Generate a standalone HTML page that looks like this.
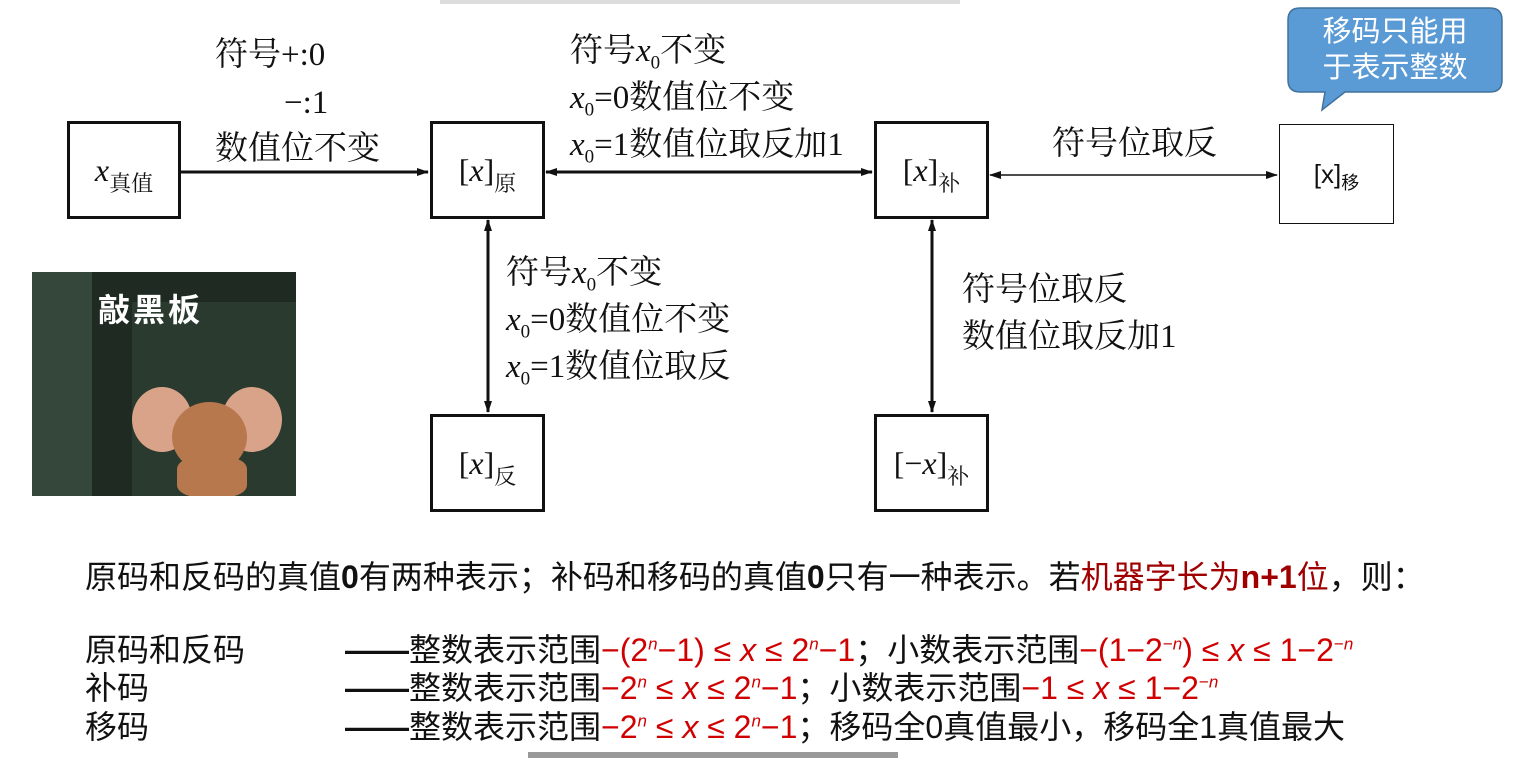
<!DOCTYPE html>
<html><head><meta charset="utf-8"><style>
body{margin:0;width:1524px;height:758px;background:#fff;position:relative;overflow:hidden;font-family:"Liberation Serif","Noto Serif CJK SC",serif;color:#111}
.a{position:absolute;white-space:nowrap}
.box{position:absolute;border:3px solid #111;box-sizing:border-box;background:#fff;display:flex;align-items:center;justify-content:center;font-size:32px}
.box sub{font-size:22px;vertical-align:-10px;line-height:0;font-family:"Noto Serif CJK SC",serif}
.t{font-size:33px;line-height:47px}
sub,sup{line-height:0}
i{font-style:italic}
.s{font-family:"Liberation Sans","Noto Sans CJK SC",sans-serif;font-size:32px;line-height:40px}
.r{color:#d00000}
.dr{color:#a00000}
.z{font-size:19px}
</style></head><body>
<div class="a" style="left:440px;top:0;width:520px;height:4px;background:#ddd"></div>
<div class="a" style="left:528px;top:752px;width:370px;height:6px;background:#999"></div>

<svg class="a" style="left:0;top:0" width="1524" height="758">
<defs>
<marker id="m" markerWidth="12" markerHeight="10" refX="11" refY="5" orient="auto-start-reverse" markerUnits="userSpaceOnUse"><path d="M0,1 L12,5 L0,9 Z" fill="#111"/></marker>
</defs>
<g stroke="#111" stroke-width="3">
<line x1="181" y1="172" x2="428" y2="172" marker-end="url(#m)"/>
<line x1="546" y1="172" x2="872" y2="172" marker-start="url(#m)" marker-end="url(#m)"/>
<line x1="488" y1="220" x2="488" y2="412" marker-start="url(#m)" marker-end="url(#m)"/>
<line x1="932" y1="220" x2="932" y2="412" marker-start="url(#m)" marker-end="url(#m)"/>
</g>
<line x1="990" y1="175" x2="1277" y2="175" stroke="#111" stroke-width="1.5" marker-start="url(#m)" marker-end="url(#m)"/>
<path d="M1300,8 H1490 Q1502,8 1502,20 V80 Q1502,92 1490,92 H1345 L1322,110 L1325,92 H1300 Q1288,92 1288,80 V20 Q1288,8 1300,8 Z" fill="#5b9bd5" stroke="#41719c" stroke-width="1.5"/>
</svg>
<div class="a s" style="left:1288px;top:14px;width:214px;text-align:center;color:#fff;font-size:29px;line-height:36px">移码只能用<br>于表示整数</div>

<div class="box" style="left:67px;top:121px;width:114px;height:98px"><span><i>x</i><sub>真值</sub></span></div>
<div class="box" style="left:430px;top:121px;width:115px;height:98px"><span>[<i>x</i>]<sub>原</sub></span></div>
<div class="box" style="left:874px;top:121px;width:115px;height:98px"><span>[<i>x</i>]<sub>补</sub></span></div>
<div class="box" style="left:1279px;top:124px;width:115px;height:100px;border-width:1.5px;font-family:'Liberation Sans',sans-serif;font-size:26px"><span>[x]<sub style="font-family:'Noto Sans CJK SC';font-size:18px;vertical-align:-6px">移</sub></span></div>
<div class="box" style="left:430px;top:414px;width:115px;height:98px"><span>[<i>x</i>]<sub>反</sub></span></div>
<div class="box" style="left:874px;top:414px;width:115px;height:98px"><span>[−<i>x</i>]<sub>补</sub></span></div>

<div class="a t" style="left:215px;top:32px">符号+:0</div>
<div class="a t" style="left:284px;top:80px">−:1</div>
<div class="a t" style="left:215px;top:126px">数值位不变</div>
<div class="a t" style="left:570px;top:28px">符号<i>x</i><sub class="z">0</sub>不变<br><i>x</i><sub class="z">0</sub>=0数值位不变<br><i>x</i><sub class="z">0</sub>=1数值位取反加1</div>
<div class="a t" style="left:1052px;top:121px">符号位取反</div>
<div class="a t" style="left:506px;top:250px">符号<i>x</i><sub class="z">0</sub>不变<br><i>x</i><sub class="z">0</sub>=0数值位不变<br><i>x</i><sub class="z">0</sub>=1数值位取反</div>
<div class="a t" style="left:962px;top:267px">符号位取反<br>数值位取反加1</div>

<div class="a" style="left:32px;top:272px;width:264px;height:224px;background:#1f2b22;overflow:hidden">
<div class="a" style="left:0;top:0;width:60px;height:224px;background:#35463a"></div>
<div class="a" style="left:100px;top:30px;width:180px;height:200px;background:#2a3a2e"></div>
<div class="a s" style="left:66px;top:18px;color:#fff;font-weight:bold;font-size:32px;letter-spacing:3px">敲黑板</div>
<div class="a" style="left:100px;top:115px;width:60px;height:65px;border-radius:50%;background:#d9a38a"></div>
<div class="a" style="left:190px;top:115px;width:60px;height:65px;border-radius:50%;background:#d9a38a"></div>
<div class="a" style="left:140px;top:130px;width:75px;height:70px;border-radius:50%;background:#b8784e"></div>
<div class="a" style="left:145px;top:185px;width:70px;height:40px;border-radius:30%;background:#b8784e"></div>
</div>

<div class="a s" style="left:85px;top:557px">原码和反码的真值<b>0</b>有两种表示；补码和移码的真值<b>0</b>只有一种表示。若<span class="dr">机器字长为<b>n+1</b>位</span>，则：</div>
<div class="a s" style="left:85px;top:630px">原码和反码</div>
<div class="a s" style="left:85px;top:668px">补码</div>
<div class="a s" style="left:85px;top:707px">移码</div>
<div class="a s" style="left:345px;top:630px"><b>——</b>整数表示范围<span class="r">−(2<sup style="font-size:17px"><i>n</i></sup>−1) ≤ <i>x</i> ≤ 2<sup style="font-size:17px"><i>n</i></sup>−1</span>；小数表示范围<span class="r">−(1−2<sup style="font-size:17px">−<i>n</i></sup>) ≤ <i>x</i> ≤ 1−2<sup style="font-size:17px">−<i>n</i></sup></span></div>
<div class="a s" style="left:345px;top:668px"><b>——</b>整数表示范围<span class="r">−2<sup style="font-size:17px"><i>n</i></sup> ≤ <i>x</i> ≤ 2<sup style="font-size:17px"><i>n</i></sup>−1</span>；小数表示范围<span class="r">−1 ≤ <i>x</i> ≤ 1−2<sup style="font-size:17px">−<i>n</i></sup></span></div>
<div class="a s" style="left:345px;top:707px"><b>——</b>整数表示范围<span class="r">−2<sup style="font-size:17px"><i>n</i></sup> ≤ <i>x</i> ≤ 2<sup style="font-size:17px"><i>n</i></sup>−1</span>；移码全0真值最小，移码全1真值最大</div>
</body></html>
